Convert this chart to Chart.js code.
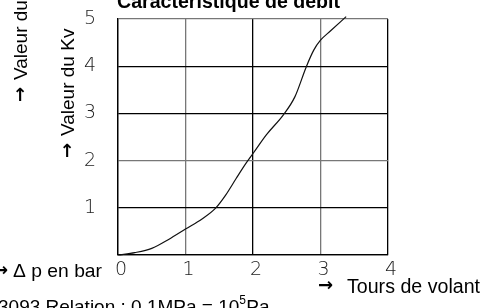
<!DOCTYPE html>
<html>
<head>
<meta charset="utf-8">
<style>
  html, body { margin: 0; padding: 0; background: #fff; }
  canvas { display: block; }
</style>
<script src="https://cdn.jsdelivr.net/npm/chart.js@4"></script>
</head>
<body>
<canvas id="kvChart" width="486" height="308"></canvas>
<script>
// curve: handwheel turns -> Kv value
const turns = [0, 0.25, 0.5, 0.75, 1.0, 1.25, 1.45, 1.6, 1.75, 1.9, 2.0, 2.2, 2.45, 2.62, 2.79, 2.9, 3.0, 3.15, 3.38];
const kv    = [0, 0.05, 0.14, 0.33, 0.55, 0.77, 1.0, 1.28, 1.62, 1.95, 2.15, 2.55, 2.97, 3.35, 3.99, 4.34, 4.55, 4.75, 5.05];

const xTickLabels = ['0', '1', '2', '3', '4'];
const yTickLabels = ['', '1', '2', '3', '4', '5'];

const titleText = 'Caractéristique de débit';
const yTitle    = 'Valeur du Kv';
const dpText    = 'Δ p en bar';
const xTitle    = 'Tours de volant';
const noteText  = '3093 Relation : 0,1MPa = 10';

// grid lines in the scan are a mix of black and grey
const xGridGrey = [false, true, false, true, false];
const yGridGrey = [false, false, true, false, false, true];

const tickFont = { family: "'DejaVu Sans', sans-serif", size: 19, weight: 200 };
const textFont = "19px 'Liberation Sans', Arial, sans-serif";
const arrowFont = "bold 18px 'DejaVu Sans', sans-serif";

// draw text squeezed/stretched so it spans a given width
function fitText(ctx, text, x, y, width) {
  const w = ctx.measureText(text).width;
  ctx.save();
  ctx.translate(x, y);
  ctx.scale(width / w, 1);
  ctx.fillText(text, 0, 0);
  ctx.restore();
}

const extraText = {
  id: 'extraText',
  afterDraw(chart) {
    const ctx = chart.ctx;
    ctx.save();
    ctx.fillStyle = '#000';
    ctx.textBaseline = 'alphabetic';
    ctx.textAlign = 'left';

    // title, top half cut off by the crop
    ctx.font = "bold 20px 'Liberation Sans', Arial, sans-serif";
    fitText(ctx, titleText, 117, 8, 223);

    // two rotated axis titles (the left one is cut off)
    [[27, 102], [74, 158]].forEach(([x, y]) => {
      ctx.save();
      ctx.translate(x, y);
      ctx.rotate(-Math.PI / 2);
      ctx.font = arrowFont;
      ctx.fillText('→', 0, -1);
      ctx.font = textFont;
      ctx.fillText(yTitle, 22, 0);
      ctx.restore();
    });

    ctx.font = textFont;
    fitText(ctx, dpText, 13, 277, 89);
    ctx.font = arrowFont;
    ctx.textAlign = 'right';
    ctx.fillText('→', 8, 276);
    ctx.textAlign = 'left';

    ctx.fillText('→', 318, 291);
    ctx.font = "20px 'Liberation Sans', Arial, sans-serif";
    fitText(ctx, xTitle, 347, 293, 133);

    // footnote, mostly below the crop
    ctx.font = textFont;
    ctx.fillText(noteText, -2, 313);
    const w = ctx.measureText(noteText).width;
    ctx.font = "12px 'Liberation Sans', Arial, sans-serif";
    ctx.fillText('5', w - 2, 304);
    ctx.font = textFont;
    ctx.fillText('Pa', w + 5, 313);
    ctx.restore();
  }
};

new Chart(document.getElementById('kvChart').getContext('2d'), {
  type: 'line',
  data: {
    datasets: [{
      data: turns.map((t, i) => ({ x: t, y: kv[i] })),
      borderColor: '#111',
      borderWidth: 1.2,
      pointRadius: 0,
      cubicInterpolationMode: 'monotone',
      fill: false,
      clip: false
    }]
  },
  options: {
    responsive: false,
    animation: false,
    layout: { padding: { left: 0, right: 98, top: 19, bottom: 0 } },
    plugins: {
      legend: { display: false },
      tooltip: { enabled: false }
    },
    scales: {
      x: {
        type: 'linear',
        min: 0,
        max: 4,
        afterFit: s => { s.height = 53; s.paddingLeft = 0; s.paddingRight = 0; },
        ticks: {
          stepSize: 1,
          padding: 4,
          labelOffset: 3,
          color: '#222',
          font: tickFont,
          callback: (v, i) => xTickLabels[i]
        },
        grid: {
          drawTicks: false,
          lineWidth: 1.3,
          color: c => xGridGrey[c.index] ? '#777' : '#000'
        },
        border: { color: '#000', width: 1.3 }
      },
      y: {
        type: 'linear',
        min: 0,
        max: 5,
        afterFit: s => { s.width = 118; s.paddingTop = 0; s.paddingBottom = 0; },
        ticks: {
          stepSize: 1,
          padding: 22,
          color: '#222',
          font: tickFont,
          callback: (v, i) => yTickLabels[i]
        },
        grid: {
          drawTicks: false,
          lineWidth: 1.3,
          color: c => yGridGrey[c.index] ? '#777' : '#000'
        },
        border: { color: '#000', width: 1.3 }
      }
    }
  },
  plugins: [extraText]
});
</script>
</body>
</html>
